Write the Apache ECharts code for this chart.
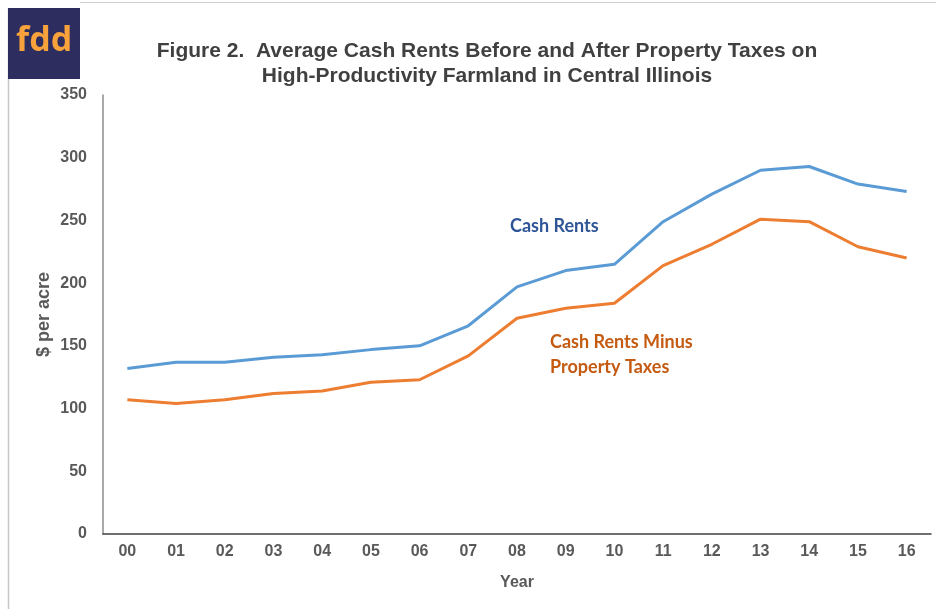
<!DOCTYPE html>
<html><head><meta charset="utf-8">
<script src="https://cdn.jsdelivr.net/npm/echarts@6/dist/echarts.min.js"></script>
<style>html,body{margin:0;padding:0;background:#fff}#c{width:936px;height:609px}</style>
</head><body><div id="c"></div>
<script>
const years = ['00','01','02','03','04','05','06','07','08','09','10','11','12','13','14','15','16'];
const cashRents = [132,137,137,141,143,147,150,166,197,210,215,249,271,290,293,279,273];
const cashRentsMinusTaxes = [107,104,107,112,114,121,123,142,172,180,184,214,231,251,249,229,220];
const yTicks = [0,50,100,150,200,250,300,350];

const chart = echarts.init(document.getElementById('c'));
const axisFont = {fontFamily:'Liberation Sans, Arial, sans-serif', fontWeight:'bold', fontSize:16, color:'#595959'};
chart.setOption({
  animation:false,
  backgroundColor:'#fff',
  title:{
    text:'Figure 2.  Average Cash Rents Before and After Property Taxes on\nHigh-Productivity Farmland in Central Illinois',
    left:482, top:34, textAlign:'center',
    textStyle:{fontFamily:'Liberation Sans, Arial, sans-serif', fontWeight:'bold', fontSize:21, color:'#404040', lineHeight:25}
  },
  grid:{left:103, right:5, top:95, bottom:75},
  xAxis:{
    type:'category', data:years, boundaryGap:true,
    name:'Year', nameLocation:'middle', nameGap:41,
    nameTextStyle:axisFont,
    axisLine:{lineStyle:{color:'#404040', width:1.5}},
    axisTick:{show:false},
    axisLabel:Object.assign({margin:10}, axisFont)
  },
  yAxis:{
    type:'value', min:yTicks[0], max:yTicks[yTicks.length-1], interval:50,
    name:'$ per acre', nameLocation:'middle', nameGap:50, nameRotate:90, nameMoveOverlap:false,
    nameTextStyle:Object.assign({}, axisFont, {fontSize:18}),
    axisLine:{show:true, lineStyle:{color:'#8c8c8c', width:1.5}},
    axisTick:{show:false},
    splitLine:{show:false},
    axisLabel:Object.assign({margin:16}, axisFont)
  },
  series:[
    {type:'line', name:'Cash Rents', data:cashRents, symbol:'none', lineStyle:{color:'#5b9bd5', width:3}, itemStyle:{color:'#5b9bd5'}},
    {type:'line', name:'Cash Rents Minus Property Taxes', data:cashRentsMinusTaxes, symbol:'none', lineStyle:{color:'#ed7d31', width:3}, itemStyle:{color:'#ed7d31'}}
  ],
  graphic:[
    {type:'line', shape:{x1:8.5,y1:8,x2:8.5,y2:609}, style:{stroke:'#c8c8c8', lineWidth:1.5}},
    {type:'line', shape:{x1:80,y1:2.5,x2:936,y2:2.5}, style:{stroke:'#d0d0d0', lineWidth:1}},
    {type:'rect', shape:{x:8,y:8,width:72,height:71}, style:{fill:'#2e2d5f'}},
    {type:'text', left:16, top:24, style:{text:'fdd', fill:'#f7a23b', font:'bold 34px "Open Sans", Lato, sans-serif'}},
    {type:'text', left:510, top:217, style:{text:'Cash Rents', fill:'#2f5597', font:'bold 18px Lato, "Open Sans", sans-serif'}},
    {type:'text', left:550, top:330, style:{text:'Cash Rents Minus\nProperty Taxes', fill:'#c55a11', font:'bold 18px Lato, "Open Sans", sans-serif', lineHeight:25}}
  ]
});
</script></body></html>
